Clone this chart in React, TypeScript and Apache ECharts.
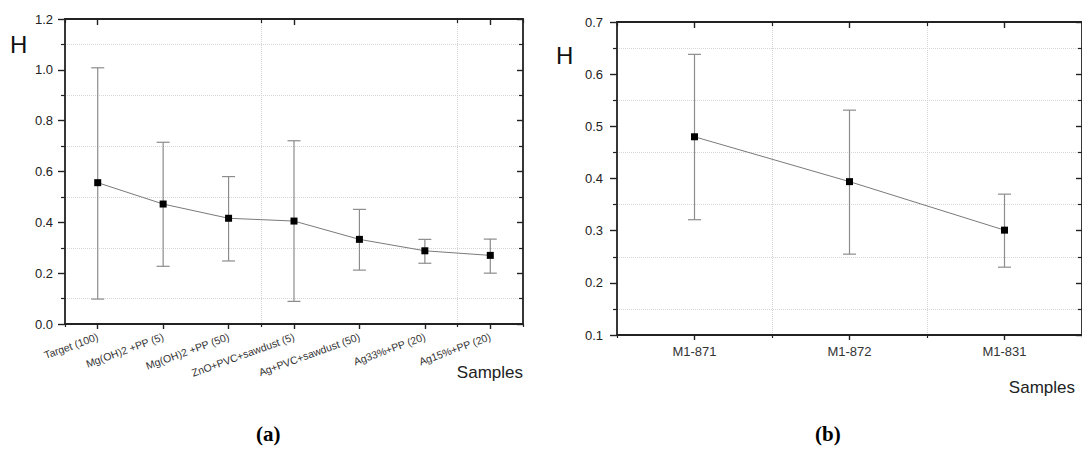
import React, { useEffect, useRef } from "react";
import * as echarts from "echarts";

// ---- Data: panel (a)
const catsA = [
  "Target (100)",
  "Mg(OH)2 +PP (5)",
  "Mg(OH)2 +PP (50)",
  "ZnO+PVC+sawdust (5)",
  "Ag+PVC+sawdust (50)",
  "Ag33%+PP (20)",
  "Ag15%+PP (20)",
];
const meanA = [0.556, 0.472, 0.416, 0.405, 0.333, 0.288, 0.27];
const lowA = [0.098, 0.227, 0.248, 0.089, 0.212, 0.239, 0.2];
const highA = [1.008, 0.715, 0.58, 0.721, 0.451, 0.333, 0.334];

// ---- Data: panel (b)
const catsB = ["M1-871", "M1-872", "M1-831"];
const meanB = [0.48, 0.394, 0.301];
const lowB = [0.321, 0.255, 0.23];
const highB = [0.638, 0.531, 0.37];

// axis ranges
const yMinA = 0, yMaxA = 1.2, yStepA = 0.2;
const yMinB = 0.1, yMaxB = 0.7, yStepB = 0.1;

const FONT = "Liberation Sans, Arial, sans-serif";
const AXC = "#222222";
const GRIDC = "#d3d8d3";

function errRender(params: any, api: any) {
  const x = api.value(0);
  const lo = api.coord([x, api.value(1)]);
  const hi = api.coord([x, api.value(2)]);
  const w = 6.5;
  const st = { stroke: "#8c8c8c", lineWidth: 1.2 };
  return {
    type: "group",
    children: [
      { type: "line", shape: { x1: lo[0], y1: lo[1], x2: hi[0], y2: hi[1] }, style: st },
      { type: "line", shape: { x1: hi[0] - w, y1: hi[1], x2: hi[0] + w, y2: hi[1] }, style: st },
      { type: "line", shape: { x1: lo[0] - w, y1: lo[1], x2: lo[0] + w, y2: lo[1] }, style: st },
    ],
  };
}

function xAxes(gridIndex: number, cats: string[], labelOpt: any) {
  return [
    {
      type: "category", gridIndex, data: cats, position: "bottom",
      axisLine: { show: true, lineStyle: { color: AXC, width: 1.8 } },
      axisTick: { show: true, alignWithLabel: true, length: 5, lineStyle: { color: AXC, width: 1.4 } },
      axisLabel: labelOpt,
      splitLine: { show: false },
    },
    {
      type: "category", gridIndex, data: cats, position: "bottom",
      axisLine: { show: false },
      axisTick: { show: true, alignWithLabel: false, length: 3, lineStyle: { color: AXC, width: 1.2 } },
      axisLabel: { show: false },
      splitLine: { show: true, lineStyle: { color: GRIDC, type: "dotted", width: 1 } },
    },
    {
      type: "category", gridIndex, data: cats, position: "top",
      axisLine: { show: true, lineStyle: { color: AXC, width: 1.8 } },
      axisTick: { show: true, inside: true, alignWithLabel: true, length: 6, lineStyle: { color: AXC, width: 1.4 } },
      axisLabel: { show: false },
      splitLine: { show: false },
    },
    {
      type: "category", gridIndex, data: cats, position: "top",
      axisLine: { show: false },
      axisTick: { show: true, inside: true, alignWithLabel: false, length: 4, lineStyle: { color: AXC, width: 1.2 } },
      axisLabel: { show: false },
      splitLine: { show: false },
    },
  ];
}

function yAxes(gridIndex: number, min: number, max: number, step: number, labelMargin: number) {
  return [
    {
      type: "value", gridIndex, position: "left", min, max, interval: step,
      axisLine: { show: true, lineStyle: { color: AXC, width: 1.8 } },
      axisTick: { show: true, length: 7, lineStyle: { color: AXC, width: 1.4 } },
      minorTick: { show: true, splitNumber: 2, length: 4, lineStyle: { color: AXC, width: 1.2 } },
      axisLabel: {
        show: true, margin: labelMargin, color: "#222", fontSize: 13, fontFamily: FONT,
        formatter: (v: number) => v.toFixed(1),
      },
      splitLine: { show: false },
      minorSplitLine: { show: true, lineStyle: { color: GRIDC, type: "dotted", width: 1 } },
    },
    {
      type: "value", gridIndex, position: "right", min, max, interval: step,
      axisLine: { show: true, lineStyle: { color: AXC, width: 1.8 } },
      axisTick: { show: true, inside: true, length: 6, lineStyle: { color: AXC, width: 1.4 } },
      minorTick: { show: true, splitNumber: 2, length: 4, lineStyle: { color: AXC, width: 1.2 } },
      axisLabel: { show: false },
      splitLine: { show: false },
    },
  ];
}

export default function App() {
  const ref = useRef<HTMLDivElement>(null);
  useEffect(() => {
    if (!ref.current) return;
    const chart = echarts.init(ref.current, null, { renderer: "svg" });
    const option: any = {
      animation: false,
      backgroundColor: "#ffffff",
      grid: [
        { left: 65, top: 19, width: 458, height: 305 },
        { left: 617, top: 22, width: 472, height: 313 },
      ],
      xAxis: [
        ...xAxes(0, catsA, {
          show: true, rotate: 20, margin: 12, color: "#333", fontSize: 10.5, fontFamily: FONT, interval: 0,
        }),
        ...xAxes(1, catsB, {
          show: true, margin: 10, color: "#333", fontSize: 13, fontFamily: FONT, interval: 0,
        }),
      ],
      yAxis: [
        ...yAxes(0, yMinA, yMaxA, yStepA, 12),
        ...yAxes(1, yMinB, yMaxB, yStepB, 14),
      ],
      series: [
        {
          type: "custom", xAxisIndex: 0, yAxisIndex: 0, z: 2,
          renderItem: errRender, encode: { x: 0, y: [1, 2] },
          data: catsA.map((_, i) => [i, lowA[i], highA[i]]),
        },
        {
          type: "line", xAxisIndex: 0, yAxisIndex: 0, z: 3,
          data: meanA, symbol: "rect", symbolSize: 7,
          lineStyle: { color: "#7a7a7a", width: 1 },
          itemStyle: { color: "#000" },
        },
        {
          type: "custom", xAxisIndex: 4, yAxisIndex: 2, z: 2,
          renderItem: errRender, encode: { x: 0, y: [1, 2] },
          data: catsB.map((_, i) => [i, lowB[i], highB[i]]),
        },
        {
          type: "line", xAxisIndex: 4, yAxisIndex: 2, z: 3,
          data: meanB, symbol: "rect", symbolSize: 7,
          lineStyle: { color: "#7a7a7a", width: 1 },
          itemStyle: { color: "#000" },
        },
      ],
      graphic: [
        { type: "text", left: 10, top: 32, style: { text: "H", fontSize: 24, fontFamily: FONT, fill: "#111" } },
        { type: "text", left: 556, top: 43, style: { text: "H", fontSize: 24, fontFamily: FONT, fill: "#111" } },
        { type: "text", right: 1082 - 523, top: 364, style: { text: "Samples", fontSize: 17, fontFamily: FONT, fill: "#222" } },
        { type: "text", right: 1082 - 1075, top: 379, style: { text: "Samples", fontSize: 17, fontFamily: FONT, fill: "#222" } },
        { type: "text", left: 256, top: 423, style: { text: "(a)", fontSize: 21, fontWeight: "bold", fontFamily: "Liberation Serif, Times New Roman, serif", fill: "#000" } },
        { type: "text", left: 815, top: 423, style: { text: "(b)", fontSize: 21, fontWeight: "bold", fontFamily: "Liberation Serif, Times New Roman, serif", fill: "#000" } },
      ],
    };
    chart.setOption(option);
    return () => chart.dispose();
  }, []);
  return (
    <div
      ref={ref}
      style={{ position: "absolute", left: 0, top: 0, width: 1082, height: 474 }}
    />
  );
}
